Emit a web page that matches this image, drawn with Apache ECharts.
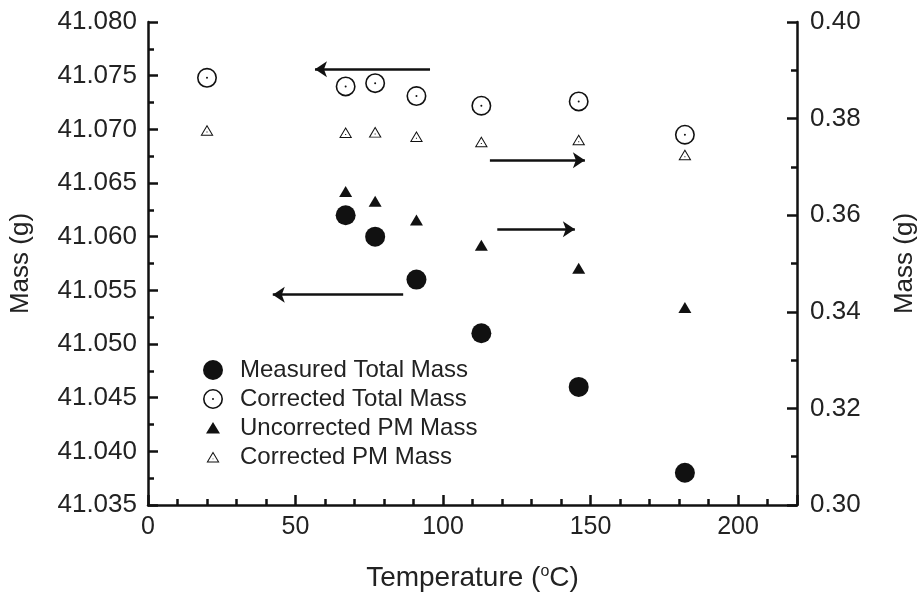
<!DOCTYPE html>
<html><head><meta charset="utf-8">
<script src="https://cdn.jsdelivr.net/npm/echarts@6/dist/echarts.min.js"></script>
<style>html,body{margin:0;padding:0;background:#fff}#c{width:917px;height:595px}</style>
</head><body><div id="c"></div>
<script>
// ---- data ----
const measuredTotalTemps = [67, 77, 91, 113, 146, 182];
const measuredTotalMass = [41.062, 41.060, 41.056, 41.051, 41.046, 41.038];
const correctedTotalTemps = [20, 67, 77, 91, 113, 146, 182];
const correctedTotalMass = [41.0748, 41.0740, 41.0743, 41.0731, 41.0722, 41.0726, 41.0695];
const uncorrectedPMTemps = [67, 77, 91, 113, 146, 182];
const uncorrectedPMMass = [0.3649, 0.3629, 0.3590, 0.3538, 0.3490, 0.3409];
const correctedPMTemps = [20, 67, 77, 91, 113, 146, 182];
const correctedPMMass = [0.3776, 0.3771, 0.3772, 0.3763, 0.3752, 0.3756, 0.3725];
const seriesNames = ['Measured Total Mass', 'Corrected Total Mass', 'Uncorrected PM Mass', 'Corrected PM Mass'];
const xTickLabels = [0, 50, 100, 150, 200];
const xMax = 220;
const leftTickLabels = ['41.035','41.040','41.045','41.050','41.055','41.060','41.065','41.070','41.075','41.080'];
const rightTickLabels = ['0.30','0.32','0.34','0.36','0.38','0.40'];
// annotation arrows: [fromX, toX, y]
const leftAxisArrows = [[95.6, 56.6, 41.0756], [86.5, 42.3, 41.0546]];
const rightAxisArrows = [[115.9, 148.1, 0.3714], [118.4, 144.7, 0.3571]];

// ---- symbol shapes ----
const ringPath = 'path://M50,0 A50,50 0 1,1 50,100 A50,50 0 1,1 50,0 Z M50,8 A42,42 0 1,0 50,92 A42,42 0 1,0 50,8 Z M50,45 A5,5 0 1,1 50,55 A5,5 0 1,1 50,45 Z';
const openTriPath = 'path://M50,0 L100,100 L0,100 Z M50,18 L13.5,91 L86.5,91 Z M46,62 L54,62 L54,71 L46,71 Z';
const anchors = 'M0,0 L0.01,0 L0,0.01 Z M99.99,100 L100,100 L100,99.99 Z ';
const legendTriFilled = 'path://' + anchors + 'M50,20 L85,78 L15,78 Z';
const legendTriOpen = 'path://' + anchors + 'M50,22.5 L82.5,77.5 L17.5,77.5 Z M50,32.3 L26.3,72.5 L73.7,72.5 Z M48,57 L52,57 L52,61 L48,61 Z';

const zip = (xs, ys) => xs.map((x, i) => [x, ys[i]]);
const ink = '#111';
const font = '"Liberation Sans", Arial, Helvetica, sans-serif';
const arrowLine = arr => arr.map(a => [{coord: [a[0], a[2]]}, {coord: [a[1], a[2]]}]);
const markLineBase = {
  silent: true, symbol: ['none', 'arrow'], symbolSize: 12, animation: false,
  label: {show: false}, emphasis: {disabled: true},
  lineStyle: {color: ink, width: 2.5, type: 'solid', opacity: 1}
};
const axisCommon = {
  type: 'value',
  axisLine: {show: true, onZero: false, lineStyle: {color: ink, width: 2.5}},
  axisTick: {show: true, inside: true, length: 10, lineStyle: {color: ink, width: 2.5}},
  minorTick: {show: true, length: 6, lineStyle: {color: ink, width: 2.5}},
  splitLine: {show: false}, minorSplitLine: {show: false}
};
const pointStyle = {color: ink, opacity: 1};

const chart = echarts.init(document.getElementById('c'), null, {renderer: 'canvas'});
chart.setOption({
  animation: false,
  backgroundColor: '#fff',
  textStyle: {fontFamily: font},
  grid: {left: 148, right: 120, top: 22, bottom: 90, containLabel: false, outerBoundsMode: 'none'},
  xAxis: Object.assign({}, axisCommon, {
    min: xTickLabels[0], max: xMax, interval: xTickLabels[1] - xTickLabels[0],
    minorTick: Object.assign({}, axisCommon.minorTick, {splitNumber: 5}),
    axisLabel: {margin: 10, fontSize: 25, color: '#222', showMaxLabel: false,
      formatter: v => xTickLabels.includes(v) ? String(v) : ''},
    name: '{a|Temperature (}{s|o}{a|C)}', nameLocation: 'middle', nameGap: 59,
    nameTextStyle: {rich: {a: {fontSize: 28, color: '#222', fontFamily: font},
      s: {fontSize: 16, color: '#222', verticalAlign: 'top', fontFamily: font}}}
  }),
  yAxis: [
    Object.assign({}, axisCommon, {
      position: 'left',
      min: +leftTickLabels[0], max: +leftTickLabels[leftTickLabels.length - 1], interval: 0.005,
      minorTick: Object.assign({}, axisCommon.minorTick, {splitNumber: 2}),
      axisLabel: {margin: 11, fontSize: 26, color: '#222', formatter: v => v.toFixed(3)},
      name: 'Mass (g)', nameLocation: 'middle', nameGap: 114, nameRotate: 90,
      nameTextStyle: {fontSize: 26, color: '#222'}
    }),
    Object.assign({}, axisCommon, {
      position: 'right',
      min: +rightTickLabels[0], max: +rightTickLabels[rightTickLabels.length - 1], interval: 0.02,
      minorTick: Object.assign({}, axisCommon.minorTick, {splitNumber: 2}),
      axisLabel: {margin: 13, fontSize: 26, color: '#222', formatter: v => v.toFixed(2)},
      name: 'Mass (g)', nameLocation: 'middle', nameGap: 95, nameRotate: 90,
      nameTextStyle: {fontSize: 26, color: '#222'}
    })
  ],
  legend: {
    orient: 'vertical', left: 198, top: 353, itemWidth: 20, itemHeight: 20, itemGap: 5,
    selectedMode: false,
    textStyle: {fontSize: 24, color: '#222', padding: [0, 0, 0, 12], lineHeight: 20},
    data: [
      {name: seriesNames[0], icon: 'circle'},
      {name: seriesNames[1], icon: ringPath},
      {name: seriesNames[2], icon: legendTriFilled},
      {name: seriesNames[3], icon: legendTriOpen}
    ]
  },
  series: [
    {name: seriesNames[0], type: 'scatter', yAxisIndex: 0, data: zip(measuredTotalTemps, measuredTotalMass),
     symbol: 'circle', symbolSize: 20, itemStyle: pointStyle, z: 3,
     markLine: Object.assign({}, markLineBase, {data: arrowLine(leftAxisArrows)})},
    {name: seriesNames[1], type: 'scatter', yAxisIndex: 0, data: zip(correctedTotalTemps, correctedTotalMass),
     symbol: ringPath, symbolSize: 20, itemStyle: pointStyle, z: 3},
    {name: seriesNames[2], type: 'scatter', yAxisIndex: 1, data: zip(uncorrectedPMTemps, uncorrectedPMMass),
     symbol: 'triangle', symbolSize: [13, 11], itemStyle: pointStyle, z: 3,
     markLine: Object.assign({}, markLineBase, {data: arrowLine(rightAxisArrows)})},
    {name: seriesNames[3], type: 'scatter', yAxisIndex: 1, data: zip(correctedPMTemps, correctedPMMass),
     symbol: openTriPath, symbolSize: [13, 11], itemStyle: pointStyle, z: 3}
  ]
});
</script>
</body></html>
